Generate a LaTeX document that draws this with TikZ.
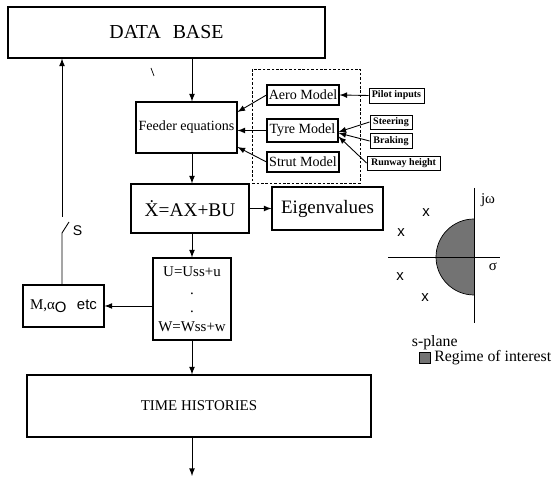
\documentclass[tikz,border=0pt]{standalone}
\usepackage{fontspec}
\setmainfont{Liberation Serif}
\setsansfont{Liberation Sans}
\usetikzlibrary{arrows.meta}

\begin{document}
\begin{tikzpicture}
\tikzset{
  block/.style={draw, line width=0.6pt, inner sep=0pt, align=center},
  model/.style={block, minimum height=0.40cm, font=\fontsize{8}{9}\selectfont\rmfamily},
  inp/.style={block, line width=0.5pt, minimum height=0.28cm, font=\fontsize{5.7}{6}\selectfont\rmfamily\bfseries},
  flow/.style={line width=0.5pt, -latex},
  pzlabel/.style={inner sep=0pt, font=\fontsize{8.5}{9}\selectfont\rmfamily}
}
\useasboundingbox (0,0) rectangle (11.06,9.54);

% main chain
\node[block, minimum width=6.34cm, minimum height=1.02cm, font=\fontsize{11.3}{12}\selectfont\rmfamily] (db) at (3.33,8.89) {DATA\hspace{0.6em}BASE};
\node[block, minimum width=2.02cm, minimum height=1.02cm, font=\fontsize{8}{9}\selectfont\rmfamily] (fe) at (3.73,6.99) {Feeder equations};
\node[block, minimum width=2.36cm, minimum height=0.98cm, font=\fontsize{11}{12}\selectfont\rmfamily] (xd) at (3.80,5.37) {\.{X}=AX+BU};
\node[block, minimum width=2.22cm, minimum height=0.86cm, font=\fontsize{10.8}{12}\selectfont\rmfamily] (ev) at (6.55,5.37) {Eigenvalues};
\node[block, minimum width=1.56cm, minimum height=1.64cm, font=\fontsize{8.5}{10.5}\selectfont\rmfamily] (ux) at (3.84,3.56) {U=Uss+u\\ .\\ .\\ W=Wss+w};
\node[block, minimum width=1.62cm, minimum height=0.84cm, font=\fontsize{8.5}{9}\selectfont\rmfamily] (mb) at (1.27,3.42) {M,α\raisebox{-0.45ex}{\sffamily O}\hspace{0.7em}\sffamily etc};
\node[block, minimum width=6.88cm, minimum height=1.24cm, font=\fontsize{8.5}{9}\selectfont\rmfamily] (th) at (3.98,1.42) {TIME HISTORIES};
\coordinate (out) at (3.84,0.02);

% sub-models and their inputs
\draw[line width=0.5pt, dash pattern=on 1.5pt off 1pt] (5.04,8.16) rectangle (7.20,5.88);
\node[model, minimum width=1.44cm] (ae) at (6.06,7.64) {Aero Model};
\node[model, minimum width=1.42cm, minimum height=0.46cm] (ty) at (6.05,6.93) {Tyre Model};
\node[model, minimum width=1.44cm] (su) at (6.06,6.30) {Strut Model};
\node[inp, minimum width=1.10cm, minimum height=0.30cm] (pi) at (7.93,7.63) {Pilot inputs};
\node[inp, minimum width=0.84cm] (st) at (7.82,7.10) {Steering};
\node[inp, minimum width=0.84cm, minimum height=0.30cm] (br) at (7.82,6.72) {Braking};
\node[inp, minimum width=1.46cm] (rw) at (8.07,6.28) {Runway height};

\draw[flow] (db.south -| ux) -- (fe.north -| ux);
\draw[flow] (fe.south -| ux) -- (xd.north -| ux);
\draw[flow] (xd.east) -- (ev.west);
\draw[flow] (xd.south -| ux) -- (ux.north);
\draw[flow] (ux.south) -- (th.north -| ux);
\draw[flow] (th.south -| ux) -- (out);
\draw[flow] (ux.west |- mb) -- (mb.east);

\draw[flow] (ae.west) -- ([yshift=0.31cm]fe.east);
\draw[flow] (ty.west) -- (ty.west -| fe.east);
\draw[flow] (su.west) -- ([yshift=-0.39cm]fe.east);
\draw[flow] (pi.west) -- (ae.east);
\draw[flow] (st.west) -- ([yshift=-0.03cm]ty.east);
\draw[flow] (br.west) -- ([yshift=-0.05cm]ty.east);
\draw[flow] (rw.west) -- ([yshift=-0.12cm]ty.east);

% feedback with switch S
\coordinate (swlo) at (1.24,4.88);
\coordinate (swup) at (1.24,5.20);
\draw[line width=0.5pt] (mb.north -| swlo) -- (swlo) -- ++(0.14,0.22);
\draw[flow] (swup) -- (swup |- db.south);
\node[pzlabel, font=\fontsize{8}{9}\selectfont\sffamily] (sw) at (1.55,4.92) {S};
\draw[line width=0.4pt] (3.02,8.18) -- (3.08,8.02);

% s-plane
\fill[black!55] (9.48,5.16) arc (90:270:0.76) -- cycle;
\draw[line width=0.4pt] (9.48,5.16) arc (90:270:0.76);
\draw[line width=0.5pt] (7.76,4.40) -- (10.00,4.40);
\draw[line width=0.5pt] (9.48,5.78) -- (9.48,3.08);
\node[pzlabel] (jw) at (9.76,5.54) {jω};
\node[pzlabel] (sg) at (9.86,4.20) {σ};
\foreach \p in {(8.52,5.28), (8.02,4.88), (8.00,4.00), (8.50,3.58)}
  \node[pzlabel, font=\fontsize{8.5}{9}\selectfont\sffamily] at \p {x};
\node[pzlabel, anchor=west, font=\fontsize{9}{10}\selectfont\rmfamily] (sp) at (8.23,2.68) {s-plane};
\node[draw, fill=black!55, line width=0.3pt, minimum size=0.22cm, inner sep=0pt] (key) at (8.50,2.38) {};
\node[pzlabel, anchor=west, font=\fontsize{9}{10}\selectfont\rmfamily] (rg) at (8.68,2.38) {Regime of interest};

\end{tikzpicture}
\end{document}
